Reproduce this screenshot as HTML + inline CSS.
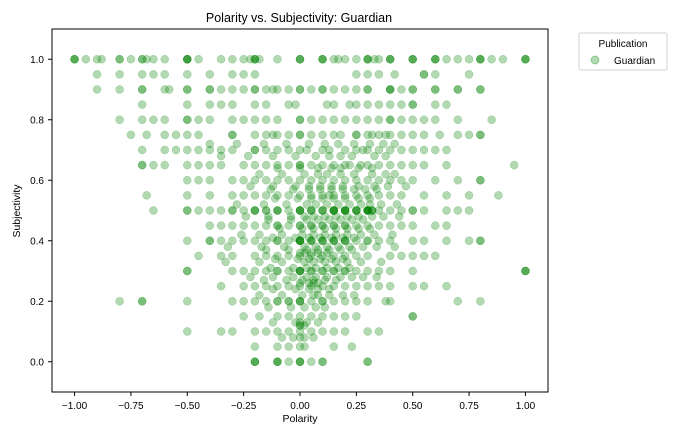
<!DOCTYPE html>
<html><head><meta charset="utf-8"><style>
body{margin:0;background:#fff;}
svg{display:block;font-family:"Liberation Sans","DejaVu Sans",sans-serif;}
</style></head><body>
<svg id="chart" width="677" height="430">
<text x="299" y="22" font-size="12.5" text-anchor="middle">Polarity vs. Subjectivity: Guardian</text>
<g id="points"></g>
<rect x="52" y="29" width="496" height="363" fill="none" stroke="#000" stroke-width="1"/>
<g id="xticks"></g>
<g id="yticks"></g>
<text x="300" y="422" font-size="10.5" text-anchor="middle">Polarity</text>
<text x="20" y="211" font-size="10.5" text-anchor="middle" transform="rotate(-90 20 211)">Subjectivity</text>
<g>
<rect x="579" y="33" width="88" height="37" rx="2" fill="#fff" stroke="#d0d0d0"/>
<text x="623" y="47" font-size="10" text-anchor="middle">Publication</text>
<circle cx="595" cy="60" r="4" fill="rgba(0,128,0,0.3)" stroke="rgba(0,128,0,0.3)"/>
<text x="614" y="64" font-size="10">Guardian</text>
</g>
</svg>
<script>
const xTicks = [-1.0,-0.75,-0.5,-0.25,0.0,0.25,0.5,0.75,1.0];
const xTickLabels = ["\u22121.00","\u22120.75","\u22120.50","\u22120.25","0.00","0.25","0.50","0.75","1.00"];
const yTicks = [0.0,0.2,0.4,0.6,0.8,1.0];
const yTickLabels = ["0.0","0.2","0.4","0.6","0.8","1.0"];
const rowSubjectivity = [1.0,0.95,0.9,0.85,0.8,0.75,0.7,0.65,0.6,0.55,0.5,0.45,0.4,0.35,0.3,0.25,0.2,0.15,0.1,0.05,0.0,
 0.62,0.58,0.52,0.48,0.42,0.38,0.33,0.28,0.22,0.68,0.72,0.5,0.4,0.3,0.2,0.0,1.0,0.9,
 0.57,0.54,0.47,0.44,0.41,0.37,0.34,0.31,0.27,0.24,0.18,0.13,0.08,0.64,0.5,0.45,0.36,0.26,0.12,0.5,0.4];
const rowPolarities = [
 [-1,-1,-1,-0.95,-0.9,-0.88,-0.8,-0.8,-0.75,-0.7,-0.7,-0.68,-0.65,-0.6,-0.5,-0.5,-0.5,-0.45,-0.35,-0.3,-0.25,-0.22,-0.2,-0.2,-0.18,-0.1,0,0,0.1,0.1,0.15,0.17,0.2,0.25,0.3,0.3,0.33,0.35,0.4,0.4,0.5,0.5,0.6,0.6,0.65,0.7,0.75,0.8,0.8,0.85,0.9,1.0,1.0,1.0],
 [-0.9,-0.8,-0.7,-0.65,-0.6,-0.5,-0.4,-0.3,-0.25,-0.2,0.25,0.3,0.35,0.42,0.55,0.55,0.6,0.75],
 [-0.9,-0.8,-0.7,-0.7,-0.6,-0.58,-0.5,-0.5,-0.4,-0.35,-0.3,-0.25,-0.2,-0.15,-0.12,-0.1,-0.05,0,0.05,0.1,0.15,0.2,0.25,0.3,0.4,0.4,0.45,0.5,0.6,0.6,0.7,0.7,0.8,0.8],
 [-0.7,-0.5,-0.4,-0.35,-0.3,-0.2,-0.15,-0.05,-0.02,0.12,0.15,0.22,0.25,0.3,0.35,0.4,0.45,0.5,0.5,0.6,0.65],
 [-0.8,-0.7,-0.65,-0.6,-0.5,-0.5,-0.45,-0.4,-0.3,-0.25,-0.2,-0.15,-0.1,0,0,0.05,0.1,0.15,0.2,0.25,0.3,0.35,0.4,0.4,0.45,0.5,0.55,0.6,0.7,0.85],
 [-0.75,-0.68,-0.6,-0.55,-0.5,-0.45,-0.3,-0.3,-0.2,-0.15,-0.12,-0.1,-0.05,0,0,0.05,0.1,0.15,0.18,0.25,0.25,0.3,0.32,0.35,0.38,0.4,0.45,0.5,0.55,0.62,0.7,0.75,0.8,0.8],
 [-0.7,-0.6,-0.55,-0.5,-0.45,-0.4,-0.35,-0.3,-0.2,-0.2,-0.15,-0.1,-0.05,0,0.03,0.1,0.13,0.2,0.25,0.28,0.3,0.35,0.4,0.45,0.5,0.55,0.6,0.65],
 [-0.7,-0.7,-0.65,-0.6,-0.5,-0.45,-0.4,-0.35,-0.25,-0.2,-0.15,-0.1,-0.05,0,0,0.05,0.1,0.15,0.2,0.22,0.27,0.3,0.35,0.4,0.45,0.5,0.55,0.65,0.95],
 [-0.5,-0.45,-0.4,-0.3,-0.25,-0.2,-0.15,-0.1,-0.05,0,0.05,0.1,0.15,0.2,0.25,0.3,0.35,0.4,0.45,0.5,0.6,0.7,0.8,0.8],
 [-0.68,-0.5,-0.4,-0.3,-0.25,-0.2,-0.15,-0.1,-0.05,0,0.05,0.1,0.13,0.15,0.2,0.25,0.3,0.35,0.4,0.45,0.55,0.65,0.75,0.88],
 [-0.65,-0.5,-0.5,-0.45,-0.4,-0.35,-0.3,-0.3,-0.25,-0.2,-0.2,-0.15,-0.1,-0.1,-0.05,0,0,0.05,0.05,0.1,0.15,0.15,0.2,0.2,0.25,0.3,0.3,0.35,0.4,0.45,0.5,0.5,0.55,0.65,0.7,0.75],
 [-0.4,-0.35,-0.3,-0.25,-0.2,-0.15,-0.1,-0.05,0,0.05,0.1,0.15,0.2,0.25,0.3,0.35,0.4,0.45,0.5,0.6,0.65],
 [-0.5,-0.4,-0.4,-0.35,-0.3,-0.25,-0.2,-0.15,-0.1,-0.05,0,0,0.05,0.1,0.15,0.2,0.25,0.3,0.35,0.4,0.5,0.55,0.65,0.75,0.8,0.8],
 [-0.45,-0.35,-0.3,-0.2,-0.15,-0.1,-0.05,0,0.05,0.1,0.15,0.2,0.25,0.3,0.4,0.45,0.5,0.55,0.6],
 [-0.5,-0.5,-0.3,-0.25,-0.2,-0.15,-0.1,-0.05,0,0,0.05,0.1,0.15,0.2,0.25,0.3,0.35,0.4,0.5,1.0,1.0,1.0],
 [-0.35,-0.25,-0.2,-0.15,-0.1,-0.05,0,0.05,0.1,0.15,0.2,0.25,0.3,0.35,0.4,0.5,0.55,0.65],
 [-0.8,-0.7,-0.7,-0.5,-0.3,-0.25,-0.2,-0.15,-0.1,-0.05,0,0.05,0.1,0.15,0.2,0.25,0.3,0.38,0.4,0.7,0.8],
 [-0.25,-0.18,-0.1,-0.05,0,0.05,0.1,0.15,0.2,0.25,0.5,0.5],
 [-0.5,-0.35,-0.3,-0.2,-0.15,-0.1,-0.05,0,0.05,0.1,0.15,0.2,0.3,0.35],
 [-0.2,-0.1,-0.05,0,0.02,0.15,0.23],
 [-0.2,-0.2,-0.1,-0.1,-0.05,0,0,0.05,0.1,0.1,0.3,0.3],
 [-0.18,-0.08,0.02,0.08,0.12,0.18,0.24,0.32,0.38,0.42],
 [-0.22,-0.12,-0.02,0.04,0.09,0.14,0.19,0.26,0.33,0.39,0.47],
 [-0.28,-0.16,-0.06,0.03,0.07,0.12,0.17,0.22,0.27,0.31,0.36,0.43],
 [-0.24,-0.14,-0.04,0.02,0.06,0.11,0.16,0.21,0.26,0.32,0.37,0.44],
 [-0.26,-0.18,-0.08,0.01,0.06,0.11,0.16,0.21,0.27,0.33,0.41],
 [-0.32,-0.17,-0.07,0.02,0.07,0.12,0.17,0.22,0.28,0.34,0.42],
 [-0.33,-0.18,-0.08,0.02,0.06,0.11,0.16,0.21,0.27,0.36],
 [-0.22,-0.12,-0.03,0.03,0.07,0.12,0.18,0.23,0.28,0.34],
 [-0.18,-0.08,0.01,0.06,0.08,0.13,0.19,0.24],
 [-0.35,-0.23,-0.12,-0.02,0.07,0.13,0.18,0.23,0.33,0.38],
 [-0.4,-0.28,-0.16,-0.06,0.04,0.11,0.17,0.24,0.31,0.37,0.42],
 [-0.2,-0.1,0,0.1,0.15,0.2,0.25,0.3,0.3,0.32],
 [-0.1,0,0,0.05,0.1,0.15,0.2,0.3],
 [-0.1,0,0,0.05,0.1,0.15,0.2],
 [-0.1,-0.05,0,0,0.1],
 [-0.2,-0.1,0],
 [-0.5,-0.2,0,0.1,0.3,0.4,0.5,0.6,0.8],
 [-0.4,-0.2,0,0.1,0.3,0.4,0.5],
 [-0.13,-0.03,0.04,0.09,0.14,0.19,0.24,0.29,0.34],
 [-0.11,-0.01,0.05,0.1,0.15,0.2,0.26,0.31],
 [-0.14,-0.04,0.03,0.08,0.13,0.18,0.23,0.28],
 [-0.09,0.01,0.06,0.11,0.16,0.21,0.26,0.31],
 [-0.12,-0.02,0.04,0.09,0.14,0.19,0.24],
 [-0.15,-0.05,0.03,0.08,0.13,0.18,0.23],
 [-0.11,-0.01,0.04,0.09,0.14,0.19],
 [-0.13,-0.03,0.03,0.07,0.12,0.17,0.22],
 [-0.16,-0.06,0.01,0.06,0.11,0.16],
 [-0.12,-0.02,0.04,0.08,0.13],
 [-0.14,-0.04,0.02,0.07,0.11],
 [-0.12,-0.02,0,0.03,0.08],
 [-0.08,-0.03,0,0.02,0.06],
 [-0.1,0.0,0.08,0.14,0.18,0.26,0.32],
 [-0.15,0.0,0.05,0.15,0.2,0.25,0.3,0.32],
 [-0.1,0,0.05,0.1,0.15,0.2],
 [0,0.02,0.05,0.08,0.12],
 [0,0.04,0.06,0.08],
 [0,0,0.02],
 [0.1,0.15,0.2,0.25,0.3,0.32],
 [0,0.05,0.1,0.15,0.2]
];
const NS="http://www.w3.org/2000/svg";
const x0=52,x1=548,y0=392,y1=29,xmin=-1.1,xmax=1.1,ymin=-0.1,ymax=1.1;
function xs(v){return x0+(v-xmin)/(xmax-xmin)*(x1-x0);}
function ys(v){return y0-(v-ymin)/(ymax-ymin)*(y0-y1);}
const pg=document.getElementById('points');
rowSubjectivity.forEach((s,i)=>{
 rowPolarities[i].forEach(p=>{
  const c=document.createElementNS(NS,'circle');
  c.setAttribute('cx',xs(p));c.setAttribute('cy',ys(s));c.setAttribute('r',4);
  c.setAttribute('fill','rgba(0,128,0,0.3)');c.setAttribute('stroke','rgba(0,128,0,0.3)');c.setAttribute('stroke-width','0.5');
  
  
  pg.appendChild(c);
 });
});
const xg=document.getElementById('xticks');
xTicks.forEach((t,i)=>{
 const X=xs(t);
 const l=document.createElementNS(NS,'line');
 l.setAttribute('x1',X);l.setAttribute('x2',X);l.setAttribute('y1',392);l.setAttribute('y2',396);l.setAttribute('stroke','#000');
 
 
 xg.appendChild(l);
 const tx=document.createElementNS(NS,'text');
 tx.setAttribute('x',X);tx.setAttribute('y',409);tx.setAttribute('font-size','10');tx.setAttribute('text-anchor','middle');
 tx.textContent=xTickLabels[i];
 
 
 xg.appendChild(tx);
});
const yg=document.getElementById('yticks');
yTicks.forEach((t,i)=>{
 const Y=ys(t);
 const l=document.createElementNS(NS,'line');
 l.setAttribute('x1',48);l.setAttribute('x2',52);l.setAttribute('y1',Y);l.setAttribute('y2',Y);l.setAttribute('stroke','#000');
 
 
 yg.appendChild(l);
 const tx=document.createElementNS(NS,'text');
 tx.setAttribute('x',44);tx.setAttribute('y',Y+3.5);tx.setAttribute('font-size','10');tx.setAttribute('text-anchor','end');
 tx.textContent=yTickLabels[i];
 
 
 yg.appendChild(tx);
});
</script>
</body></html>
